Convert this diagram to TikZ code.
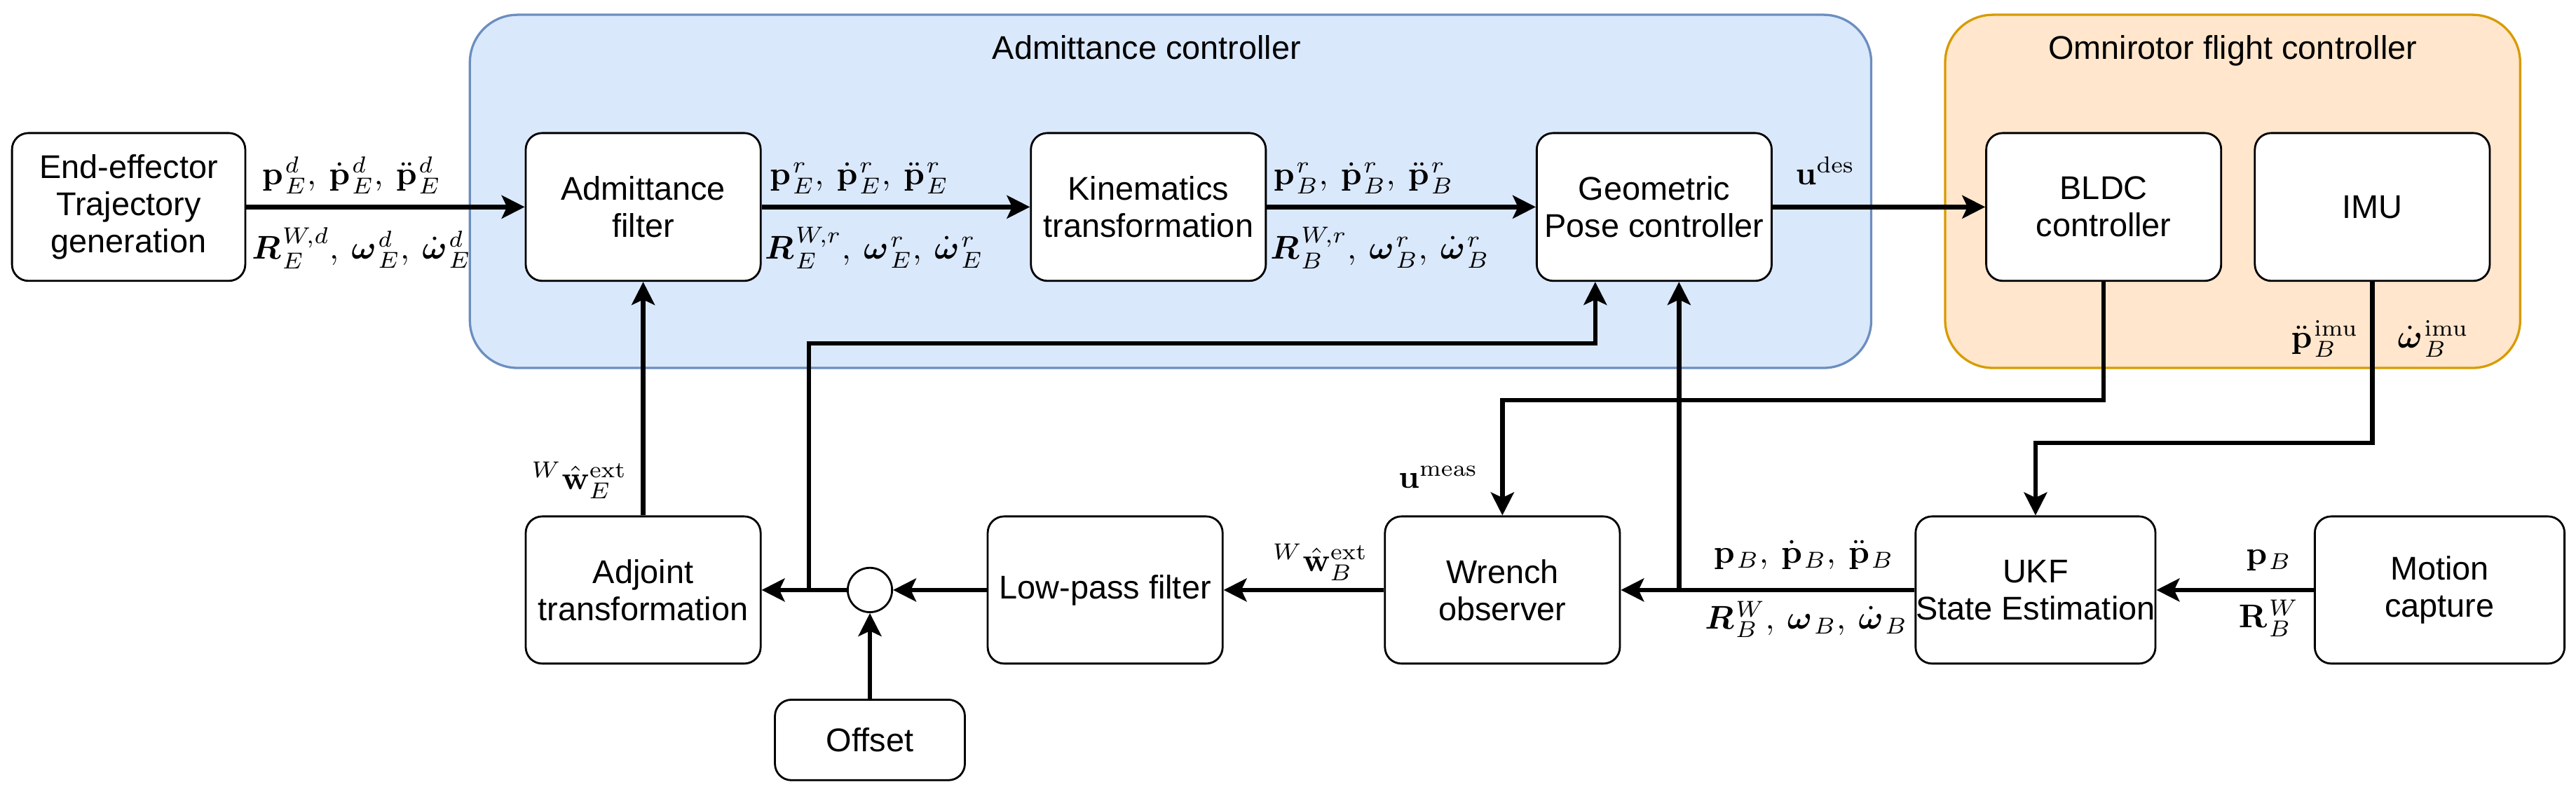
\documentclass[tikz,border=0pt]{standalone}
\usepackage[no-math]{fontspec}
\usepackage{amsmath,bm}
\newfontfamily\arialf{Liberation Sans}
\usetikzlibrary{arrows.meta,calc}
\definecolor{admfill}{HTML}{DAE8FC}
\definecolor{admdraw}{HTML}{6C8EBF}
\definecolor{omnifill}{HTML}{FFE6CC}
\definecolor{omnidraw}{HTML}{D79B00}
\newcommand{\xg}{\mkern1mu{}}
\newcommand{\xsep}{,\:}
\begin{document}
\begin{tikzpicture}[x=0.5pt,y=-0.5pt,
  blk/.style={draw, line width=0.6pt, rounded corners=5pt, fill=white, align=center,
    font=\arialf\fontsize{10}{11.3}\selectfont, minimum width=71.5pt, minimum height=45pt, inner sep=0pt},
  grp/.style={line width=0.7pt, rounded corners=14.5pt, minimum height=107.5pt, inner sep=0pt},
  ttl/.style={anchor=base, inner sep=0pt, font=\arialf\fontsize{10}{11.3}\selectfont},
  conn/.style={line width=1.4pt, -{Stealth[length=7pt,width=7pt,inset=1.6pt]}},
  lab/.style={inner sep=0pt, font=\fontsize{10}{11}\selectfont}
]
\useasboundingbox (0,0) rectangle (1568,483);

% containers
\node[grp, draw=admdraw, fill=admfill, minimum width=426.5pt] (adm) at (712.5,116.5) {};
\node[grp, draw=omnidraw, fill=omnifill, minimum width=175pt] (omni) at (1359,116.5) {};
\node[ttl] (admt) at (698,36) {Admittance controller};
\node[ttl] (omnit) at (1359,36) {Omnirotor flight controller};

% top row
\node[blk, minimum width=71pt] (ee) at (78.3,126) {End-effector\\Trajectory\\generation};
\node[blk] (af) at (391.5,126) {Admittance\\filter};
\node[blk] (kt) at (699,126) {Kinematics\\transformation};
\node[blk] (gp) at (1006.9,126) {Geometric\\Pose controller};
\node[blk] (bldc) at (1280.5,126) {BLDC\\controller};
\node[blk] (imu) at (1444,126) {IMU};

% bottom row
\node[blk, minimum height=44.8pt] (adj) at (391.5,359.2) {Adjoint\\transformation};
\node[blk, minimum height=44.8pt] (lpf) at (672.7,359.2) {Low-pass filter};
\node[blk, minimum height=44.8pt] (wo) at (914.5,359.2) {Wrench\\observer};
\node[blk, minimum height=44.8pt, minimum width=73pt] (ukf) at (1239,359.2) {UKF\\State Estimation};
\node[blk, minimum height=44.8pt, minimum width=76pt] (mc) at (1485,359.2) {Motion\\capture};
\node[blk, minimum width=57.8pt, minimum height=24.5pt] (off) at (529.5,450.5) {Offset};
\node[circle, draw, line width=0.6pt, fill=white, minimum size=13.5pt, inner sep=0pt] (sum) at (529.5,359.2) {};

% connectors top
\draw[conn] (ee.east) -- (af.west);
\draw[conn] (af.east) -- (kt.west);
\draw[conn] (kt.east) -- (gp.west);
\draw[conn] (gp.east) -- (bldc.west);
\draw[conn] (bldc.south) -- ++(0,72) -| (wo.north);
\draw[conn] (imu.south) -- ++(0,98) -| (ukf.north);

% connectors bottom
\draw[conn] (mc.west) -- (ukf.east);
\draw[conn] (ukf.west) -- (wo.east);
\coordinate (j1) at (1022,359.2);
\draw[conn] (j1) -- (j1 |- gp.south);
\draw[conn] (wo.west) -- (lpf.east);
\draw[conn] (lpf.west) -- (sum.east);
\draw[conn] (off.north) -- (sum.south);
\draw[conn] (sum.west) -- (adj.east);
\coordinate (j2) at (492.4,359.2);
\coordinate (g1) at (971,209);
\draw[conn] (j2) |- (g1) -- (g1 |- gp.south);
\draw[conn] (adj.north) -- (af.south);

% labels
\node[lab, anchor=south] (l1) at (214,118.5) {$\mathbf{p}\xg^{d}_{E}\xsep\dot{\mathbf{p}}\xg^{d}_{E}\xsep\ddot{\mathbf{p}}\xg^{d}_{E}$};
\node[lab, anchor=north] (l2) at (220,138) {$\boldsymbol{R}\xg^{W,d}_{E}\xsep\boldsymbol{\omega}\xg^{d}_{E}\xsep\dot{\boldsymbol{\omega}}\xg^{d}_{E}$};
\node[lab, anchor=south] (l3) at (523,118.5) {$\mathbf{p}\xg^{r}_{E}\xsep\dot{\mathbf{p}}\xg^{r}_{E}\xsep\ddot{\mathbf{p}}\xg^{r}_{E}$};
\node[lab, anchor=north] (l4) at (532,138) {$\boldsymbol{R}\xg^{W,r}_{E}\xsep\boldsymbol{\omega}\xg^{r}_{E}\xsep\dot{\boldsymbol{\omega}}\xg^{r}_{E}$};
\node[lab, anchor=south] (l5) at (830,118.5) {$\mathbf{p}\xg^{r}_{B}\xsep\dot{\mathbf{p}}\xg^{r}_{B}\xsep\ddot{\mathbf{p}}\xg^{r}_{B}$};
\node[lab, anchor=north] (l6) at (840,138) {$\boldsymbol{R}\xg^{W,r}_{B}\xsep\boldsymbol{\omega}\xg^{r}_{B}\xsep\dot{\boldsymbol{\omega}}\xg^{r}_{B}$};
\node[lab, anchor=base] (udes) at (1111,112.6) {$\mathbf{u}^{\mathrm{des}}$};
\node[lab, anchor=base east] (pimu) at (1436,212) {$\ddot{\mathbf{p}}\xg^{\mathrm{imu}}_{B}$};
\node[lab, anchor=base west] (wimu) at (1459,212) {$\dot{\boldsymbol{\omega}}\xg^{\mathrm{imu}}_{B}$};
\node[lab, anchor=base east] (umeas) at (900,297) {$\mathbf{u}^{\mathrm{meas}}$};
\node[lab, anchor=base east] (wB) at (833,347.8) {${}^{W}\hat{\mathbf{w}}^{\mathrm{ext}}_{B}$};
\node[lab, anchor=base east] (wE) at (382,298) {${}^{W}\hat{\mathbf{w}}^{\mathrm{ext}}_{E}$};
\node[lab, anchor=south] (l7) at (1098,347) {$\mathbf{p}\mkern1mu{}_{B}\xsep\dot{\mathbf{p}}\mkern1mu{}_{B}\xsep\ddot{\mathbf{p}}\mkern1mu{}_{B}$};
\node[lab, anchor=north] (l8) at (1099.5,365.5) {$\boldsymbol{R}\xg^{W}_{B}\xsep\boldsymbol{\omega}\mkern1mu{}_{B}\xsep\dot{\boldsymbol{\omega}}\mkern1mu{}_{B}$};
\node[lab, anchor=south] (l9) at (1381,348) {$\mathbf{p}\mkern1mu{}_{B}$};
\node[lab, anchor=north] (l10) at (1381,365) {$\mathbf{R}\xg^{W}_{B}$};
\end{tikzpicture}
\end{document}
